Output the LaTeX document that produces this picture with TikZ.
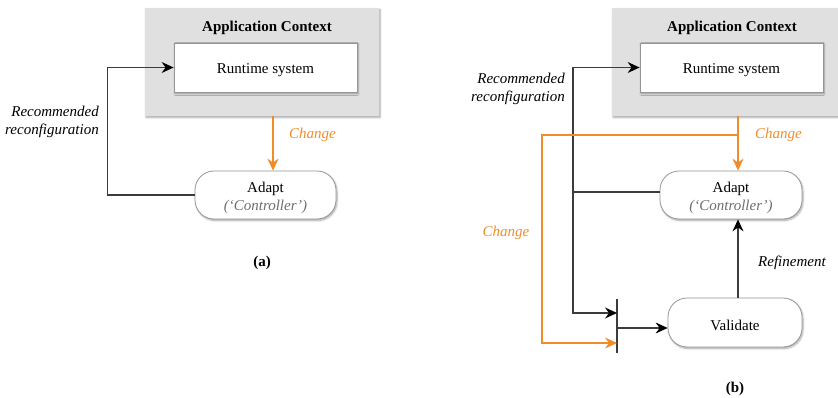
\documentclass[tikz,border=0pt]{standalone}
\usepackage{fontspec}
\setmainfont{Liberation Serif}
\usetikzlibrary{arrows.meta,shadows.blur,calc}
\definecolor{ctxgray}{RGB}{224,224,224}
\definecolor{flowor}{RGB}{240,140,42}
\definecolor{linegray}{RGB}{60,60,60}
\definecolor{boxedge}{RGB}{150,150,150}
\definecolor{subgray}{RGB}{110,110,110}
\tikzset{
  txt/.style={font=\fontsize{15}{18}\selectfont, inner sep=0pt},
  lbl/.style={txt, font=\fontsize{15}{18}\selectfont\itshape},
  orlbl/.style={lbl, text=flowor},
  ttl/.style={txt, font=\fontsize{15}{18}\selectfont\bfseries},
  sh/.style={blur shadow={shadow xshift=1pt, shadow yshift=-1.5pt, shadow blur steps=6, shadow opacity=35}},
  ctxbox/.style={rectangle, fill=ctxgray, draw=none, sh, inner sep=0pt},
  rtbox/.style={rectangle, fill=white, draw=boxedge, line width=0.8pt, sh,
                minimum width=183pt, minimum height=49pt},
  pill/.style={rectangle, rounded corners=19pt, fill=white, draw=boxedge, line width=0.8pt, sh},
  link/.style={draw=linegray, line width=1.1pt},
  arr/.style={link, -{Stealth[length=12pt,width=11pt,inset=4pt,color=black]}},
  orlink/.style={draw=flowor, line width=1.1pt},
  orarr/.style={orlink, -{Stealth[length=12pt,width=11pt,inset=4pt]}},
}
\begin{document}
\begin{tikzpicture}[x=1pt,y=-1pt]
\useasboundingbox (0,0) rectangle (838,398);

% ---------------- panel (a) ----------------
\node[ctxbox, minimum width=234pt, minimum height=108pt] (ctxA) at (262,62) {};
\node[ttl] (ctxAt) at (267,28) {Application Context};
\node[rtbox] (rtA) at (265.5,67.5) {};
\node[txt] (rtAt) at (265.5,70) {Runtime system};
\node[pill, minimum width=141pt, minimum height=48pt] (adA) at (265.5,195) {};
\node[txt] (adAt) at (265.5,189) {Adapt};
\node[lbl, text=subgray] (adAs) at (265.5,206.5) {(‘Controller’)};

\draw[orarr] ([xshift=11pt]ctxA.south) -- ([xshift=7.5pt]adA.north);
\node[orlbl, anchor=west] (chgA) at (289,135) {Change};

\draw[arr] (adA.west) -- ++(-87,0) |- (rtA.west);
\node[lbl, align=right, anchor=east] (recA) at (99,121.5) {Recommended\\reconfiguration};

\node[ttl] (capA) at (262,263) {(a)};

% ---------------- panel (b) ----------------
\node[ctxbox, minimum width=226pt, minimum height=108pt] (ctxB) at (725,62) {};
\node[ttl] (ctxBt) at (732,28) {Application Context};
\node[rtbox] (rtB) at (731.5,67.5) {};
\node[txt] (rtBt) at (731.5,70) {Runtime system};
\node[pill, minimum width=142pt, minimum height=48pt] (adB) at (731,195) {};
\node[txt] (adBt) at (731,189) {Adapt};
\node[lbl, text=subgray] (adBs) at (731,206.5) {(‘Controller’)};
\node[pill, minimum width=134pt, minimum height=49pt] (vaB) at (735,322.5) {};
\node[txt] (vaBt) at (735,325) {Validate};

% merge bar in front of Validate
\coordinate (barT) at (617,299);
\coordinate (barB) at (617,353);
\coordinate (barIn) at (617,313);
\coordinate (barOr) at (617,343);
\coordinate (barOut) at (617,328);
\draw[link] (barT) -- (barB);

% black rail: recommendation to runtime and to the bar
\coordinate (rail) at (573,192);
\draw[link] (adB.west |- rail) -- (rail);
\draw[arr] (rail) |- (rtB.west);
\draw[arr] (rail) |- (barIn);
\draw[arr] (barOut) -- (barOut -| vaB.west);

% change flow
\coordinate (split) at (738,135);
\draw[orarr] (ctxB.south -| split) -- (adB.north -| split);
\draw[orarr] (split) -- (542,135) |- (barOr);
\node[orlbl, anchor=west] (chgB) at (755,135) {Change};
\node[orlbl] (chgB2) at (506,233) {Change};

% refinement
\draw[arr] (vaB.north -| split) -- (adB.south -| split);
\node[lbl, anchor=west] (refB) at (758,263) {Refinement};

\node[lbl, align=right, anchor=east] (recB) at (565,89) {Recommended\\reconfiguration};

\node[ttl] (capB) at (735,389) {(b)};
\end{tikzpicture}
\end{document}
